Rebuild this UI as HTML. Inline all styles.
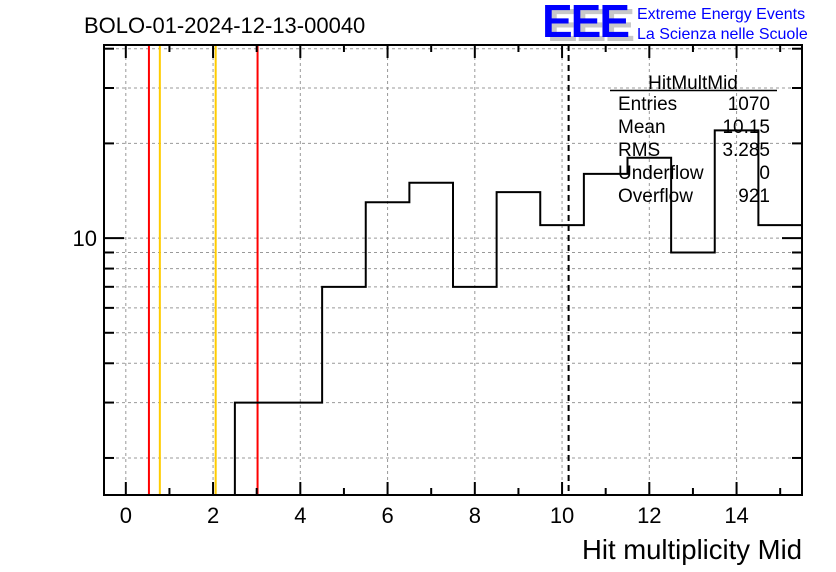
<!DOCTYPE html>
<html><head><meta charset="utf-8"><style>
body{margin:0;background:#fff}
svg{display:block;font-family:"Liberation Sans",sans-serif}
</style></head><body>
<svg id="c" width="836" height="572"></svg>
<script>
const binCenters=[0,1,2,3,4,5,6,7,8,9,10,11,12,13,14,15];
const binCounts=[0,0,0,3,3,7,13,15,7,14,11,16,18,9,22,11];
const xTickLabels=[0,2,4,6,8,10,12,14];
const yGridValues=[2,3,4,5,6,7,8,9,10,20,30,40];
const yLabelValues=[10];
const redCuts=[0.53,3.02];
const orangeCuts=[0.78,2.06];
const meanValue=10.15;
const statLabels=["Entries","Mean","RMS","Underflow","Overflow"];
const statValues=["1070","10.15","3.285","0","921"];

const L=104,R=802,T=45,B=495;
const xmin=-0.5,xmax=15.5,ymin=1.525,ymax=41.1;
const X=v=>L+(v-xmin)/(xmax-xmin)*(R-L);
const Y=v=>B-(Math.log10(v)-Math.log10(ymin))/(Math.log10(ymax)-Math.log10(ymin))*(B-T);
const svg=document.getElementById('c');
const NS='http://www.w3.org/2000/svg';
function mk(t,a,txt){const e=document.createElementNS(NS,t);for(const k in a)e.setAttribute(k,a[k]);if(txt!==undefined)e.textContent=txt;svg.appendChild(e);return e;}

xTickLabels.forEach(v=>{
 const g=mk('line',{x1:X(v),x2:X(v),y1:T,y2:B,stroke:'#999','stroke-dasharray':'3,3','stroke-width':1});
 
 
});
yGridValues.forEach(v=>{
 const g=mk('line',{x1:L,x2:R,y1:Y(v),y2:Y(v),stroke:'#999','stroke-dasharray':'3,3','stroke-width':1});
 
 
});

redCuts.forEach(v=>{
 const l=mk('line',{x1:X(v),x2:X(v),y1:T,y2:B,stroke:'#f00','stroke-width':2});
 
 
});
orangeCuts.forEach(v=>{
 const l=mk('line',{x1:X(v),x2:X(v),y1:T,y2:B,stroke:'#fc0','stroke-width':2});
 
 
});
const ml=mk('line',{x1:X(meanValue),x2:X(meanValue),y1:T,y2:B,stroke:'#000','stroke-width':2,'stroke-dasharray':'6,4'});



const st=mk('text',{x:693,y:89,'font-size':19,'text-anchor':'middle'},'HitMultMid');


const sl=mk('line',{x1:610,x2:777,y1:90.5,y2:90.5,stroke:'#000','stroke-width':1.5});


statLabels.forEach((s,i)=>{
 const a=mk('text',{x:618,y:110+i*23,'font-size':19},s);
 
 
 const b=mk('text',{x:770,y:110+i*23,'font-size':19,'text-anchor':'end'},statValues[i]);
 
 
});

let d='';let started=false;
binCenters.forEach((c,i)=>{
 const v=binCounts[i];
 const y=v>0?Math.min(Y(v),B):B;
 const x0=X(c-0.5),x1=Math.min(X(c+0.5),R);
 if(!started){ if(v>0){d+=`M${x0},${B} L${x0},${y} L${x1},${y}`;started=true;} }
 else d+=` L${x0},${y} L${x1},${y}`;
});
const h=mk('path',{d:d,fill:'none',stroke:'#000','stroke-width':2});



const fr=mk('rect',{x:L,y:T,width:R-L,height:B-T,fill:'none',stroke:'#000','stroke-width':2});



for(let v=0;v<=15;v++){
 const len=v%2===0?13:7;
 const t1=mk('line',{x1:X(v),x2:X(v),y1:B,y2:B-len,stroke:'#000','stroke-width':2});
 
 
 const t2=mk('line',{x1:X(v),x2:X(v),y1:T,y2:T+len,stroke:'#000','stroke-width':2});
 
 
}
xTickLabels.forEach(v=>{
 const t=mk('text',{x:X(v),y:523,'font-size':22,'text-anchor':'middle'},String(v));
 
 
});
yGridValues.forEach(v=>{
 const len=v===10?20:10;
 const t1=mk('line',{x1:L,x2:L+len,y1:Y(v),y2:Y(v),stroke:'#000','stroke-width':2});
 
 
 const t2=mk('line',{x1:R,x2:R-len,y1:Y(v),y2:Y(v),stroke:'#000','stroke-width':2});
 
 
});
yLabelValues.forEach(v=>{
 const t=mk('text',{x:97,y:Y(v)+8,'font-size':22,'text-anchor':'end'},String(v));
 
 
});

const tt=mk('text',{x:84,y:33,'font-size':22},'BOLO-01-2024-12-13-00040');


const xt=mk('text',{x:802,y:559,'font-size':27.5,'text-anchor':'end'},'Hit multiplicity Mid');



const lg=mk('text',{x:547,y:41,'font-size':46,'font-weight':'bold',fill:'#c8c8c8','letter-spacing':'-2'},'EEE');


const lb=mk('text',{x:542,y:37,'font-size':46,'font-weight':'bold',fill:'#00f','letter-spacing':'-2'},'EEE');


const l1=mk('text',{x:637,y:19,'font-size':16,fill:'#00f'},'Extreme Energy Events');


const l2=mk('text',{x:637,y:39,'font-size':16,fill:'#00f'},'La Scienza nelle Scuole');


</script>
</body></html>
